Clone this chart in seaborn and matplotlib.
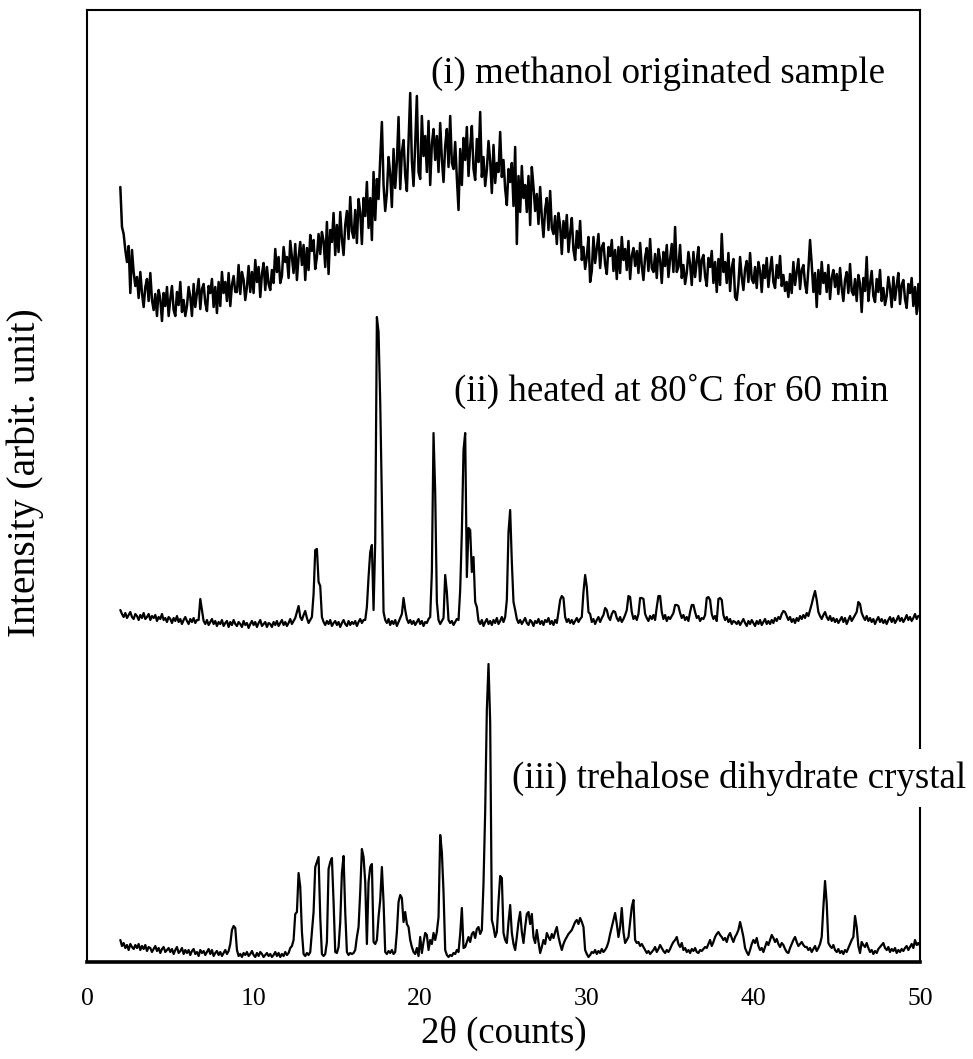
import matplotlib
matplotlib.use("Agg")
import matplotlib.pyplot as plt
import numpy as np
import pandas as pd
import seaborn as sns

# scan grid: 2.0 .. 50.0 deg, 0.1 step
two_theta = np.round(np.arange(2.0, 50.05, 0.1), 1)

# (i) methanol originated sample (arbitrary units, offset trace)
methanol = [
    775, 735, 728, 712, 700, 716, 669, 712, 690, 676,
    685, 664, 690, 669, 655, 675, 683, 661, 689, 662,
    652, 668, 646, 672, 663, 641, 669, 656, 675, 646,
    663, 676, 652, 646, 670, 657, 680, 650, 662, 646,
    656, 675, 665, 646, 678, 655, 669, 683, 653, 673,
    678, 659, 651, 676, 669, 683, 655, 675, 649, 680,
    656, 690, 669, 680, 661, 689, 656, 677, 686, 670,
    670, 697, 668, 690, 682, 662, 675, 696, 670, 690,
    669, 702, 680, 695, 665, 688, 699, 672, 695, 678,
    672, 692, 679, 713, 690, 705, 679, 686, 715, 700,
    705, 684, 721, 705, 689, 718, 682, 705, 720, 697,
    717, 682, 714, 692, 727, 711, 722, 693, 705, 728,
    708, 730, 721, 695, 740, 688, 732, 720, 749, 707,
    737, 710, 750, 723, 707, 737, 751, 723, 765, 731,
    724, 752, 719, 763, 750, 718, 764, 746, 780, 734,
    764, 722, 790, 742, 783, 763, 803, 840, 777, 751,
    769, 805, 788, 755, 813, 774, 800, 845, 773, 810,
    822, 787, 771, 819, 869, 801, 776, 818, 866, 790,
    783, 846, 806, 826, 790, 841, 777, 818, 833, 802,
    826, 790, 839, 803, 780, 816, 833, 795, 846, 799,
    793, 820, 784, 752, 813, 777, 824, 802, 835, 786,
    815, 836, 793, 782, 823, 800, 850, 785, 805, 776,
    792, 821, 801, 769, 817, 779, 799, 790, 830, 785,
    802, 773, 757, 793, 780, 799, 756, 815, 718, 786,
    750, 796, 764, 777, 750, 786, 737, 795, 775, 751,
    768, 738, 775, 745, 725, 753, 764, 732, 771, 734,
    728, 746, 718, 749, 736, 708, 741, 724, 747, 710,
    729, 744, 712, 702, 731, 714, 741, 702, 715, 693,
    705, 725, 680, 691, 725, 699, 714, 728, 694, 715,
    719, 698, 688, 715, 706, 722, 691, 712, 683, 715,
    689, 725, 702, 713, 692, 721, 683, 706, 714, 696,
    711, 689, 719, 696, 682, 705, 714, 691, 723, 694,
    690, 708, 684, 713, 702, 679, 710, 696, 717, 685,
    703, 718, 690, 735, 690, 695, 717, 684, 697, 678,
    689, 710, 698, 677, 710, 685, 701, 715, 681, 702,
    707, 686, 676, 704, 695, 711, 679, 700, 670, 703,
    677, 728, 690, 700, 679, 709, 671, 694, 703, 665,
    662, 678, 705, 685, 672, 693, 701, 680, 709, 683,
    679, 695, 674, 700, 691, 670, 697, 684, 704, 675,
    692, 705, 680, 674, 697, 684, 706, 676, 687, 671,
    680, 665, 688, 669, 700, 677, 690, 703, 673, 692,
    697, 678, 669, 693, 722, 698, 670, 689, 655, 692,
    668, 700, 679, 689, 670, 697, 663, 684, 692, 675,
    688, 668, 694, 674, 661, 682, 690, 669, 698, 671,
    667, 683, 661, 687, 678, 650, 684, 671, 705, 661,
    678, 691, 666, 660, 683, 670, 692, 661, 674, 657,
    666, 685, 674, 655, 685, 662, 676, 689, 658, 677,
    682, 663, 654, 678, 669, 684, 656, 675, 648, 678,
    650,
]

# (ii) heated at 80 C for 60 min
heated = [
    352, 348, 345, 349, 344, 347, 350, 345, 343, 348,
    346, 342, 347, 344, 349, 343, 345, 348, 342, 346,
    344, 347, 341, 345, 343, 348, 342, 344, 340, 345,
    343, 339, 344, 341, 346, 340, 343, 338, 342, 345,
    341, 338, 343, 340, 344, 339, 342, 342, 363, 352,
    341, 338, 342, 337, 340, 343, 338, 341, 336, 340,
    338, 342, 336, 339, 341, 335, 340, 337, 342, 338,
    336, 340, 338, 335, 341, 337, 339, 334, 338, 341,
    337, 340, 335, 339, 342, 336, 338, 340, 335, 339,
    338, 335, 340, 337, 341, 336, 339, 342, 337, 340,
    336, 339, 343, 338, 341, 344, 350, 356, 345, 342,
    347, 351, 344, 339, 342, 345, 368, 412, 413, 380,
    376, 345, 340, 337, 341, 338, 342, 336, 339, 341,
    337, 340, 335, 339, 342, 338, 336, 341, 337, 340,
    338, 341, 336, 340, 343, 339, 342, 342, 355, 385,
    410, 417, 352, 420, 645, 630, 560, 462, 350, 342,
    339, 343, 337, 341, 338, 342, 336, 340, 344, 348,
    364, 352, 343, 339, 342, 338, 341, 337, 340, 343,
    338, 341, 336, 340, 339, 343, 345, 390, 529, 470,
    360, 342, 338, 341, 344, 387, 370, 342, 339, 341,
    337, 340, 343, 342, 372, 430, 512, 529, 385, 434,
    432, 390, 405, 360, 355, 341, 338, 342, 336, 340,
    343, 338, 341, 337, 342, 339, 344, 338, 341, 345,
    340, 345, 362, 430, 452, 400, 360, 352, 343, 339,
    342, 338, 341, 344, 339, 337, 342, 340, 336, 341,
    339, 343, 338, 341, 337, 342, 340, 344, 338, 341,
    337, 342, 339, 350, 362, 366, 364, 345, 340, 343,
    339, 342, 338, 341, 344, 340, 343, 345, 370, 387,
    375, 350, 348, 340, 343, 338, 342, 345, 340, 344,
    347, 354, 352, 345, 342, 348, 351, 350, 344, 341,
    345, 340, 343, 347, 352, 366, 365, 350, 343, 346,
    342, 348, 364, 364, 363, 348, 344, 341, 346, 343,
    347, 342, 355, 366, 366, 350, 343, 347, 341, 345,
    343, 346, 349, 357, 357, 356, 349, 344, 347, 342,
    345, 341, 350, 357, 357, 350, 344, 346, 341, 344,
    343, 347, 364, 365, 362, 348, 343, 346, 341, 363,
    364, 362, 347, 342, 345, 340, 343, 338, 341, 340,
    338, 341, 337, 340, 343, 339, 336, 341, 338, 342,
    339, 336, 341, 338, 342, 337, 340, 343, 338, 341,
    338, 342, 339, 344, 341, 345, 343, 348, 351, 350,
    346, 342, 345, 340, 343, 339, 344, 341, 346, 343,
    347, 344, 349, 346, 352, 358, 365, 371, 362, 350,
    346, 343, 347, 350, 345, 342, 346, 341, 344, 340,
    343, 339, 342, 345, 340, 344, 338, 342, 346, 341,
    344, 347, 350, 360, 358, 349, 345, 342, 346, 341,
    344, 340, 343, 338, 342, 345, 340, 343, 339, 342,
    338, 342, 345, 340, 344, 339, 342, 346, 341, 344,
    340, 343, 347, 342, 345, 341, 344, 348, 343, 346,
    346,
]

# (iii) trehalose dihydrate crystal
dihydrate = [
    22, 16, 19, 14, 17, 12, 18, 15, 13, 17,
    14, 18, 12, 16, 13, 17, 11, 15, 14, 10,
    13, 16, 11, 14, 9, 13, 15, 10, 12, 14,
    10, 13, 8, 12, 15, 9, 11, 14, 8, 12,
    9, 12, 7, 11, 13, 8, 10, 6, 12, 9,
    11, 7, 10, 13, 8, 12, 6, 9, 11, 7,
    10, 6, 9, 12, 8, 11, 18, 32, 36, 34,
    12, 6, 8, 5, 9, 7, 10, 6, 8, 11,
    7, 5, 9, 6, 10, 8, 5, 7, 9, 6,
    8, 5, 7, 10, 6, 9, 5, 8, 6, 10,
    7, 9, 14, 16, 22, 48, 50, 89, 75, 30,
    8, 6, 9, 7, 10, 30, 50, 95, 100, 105,
    45, 8, 6, 8, 20, 93, 100, 104, 60, 10,
    9, 15, 40, 89, 106, 50, 10, 7, 9, 8,
    9, 12, 25, 35, 70, 113, 105, 80, 18, 80,
    95, 98, 20, 18, 22, 45, 62, 95, 60, 10,
    8, 11, 9, 12, 8, 10, 30, 60, 67, 64,
    40, 50, 38, 35, 22, 15, 10, 8, 14, 6,
    25, 9, 20, 29, 27, 12, 22, 18, 29, 22,
    30, 45, 127, 110, 70, 12, 7, 5, 7, 6,
    9, 8, 12, 10, 28, 54, 14, 15, 20, 25,
    20, 28, 30, 24, 33, 35, 28, 32, 79, 150,
    252, 298, 240, 42, 35, 25, 30, 60, 86, 84,
    29, 22, 19, 40, 57, 29, 18, 12, 25, 40,
    50, 30, 19, 35, 48, 50, 38, 48, 25, 19,
    32, 20, 9, 15, 22, 18, 29, 25, 22, 28,
    24, 30, 35, 25, 18, 12, 18, 22, 25, 28,
    30, 32, 36, 40, 42, 38, 44, 40, 35, 12,
    8, 5, 7, 10, 9, 12, 8, 11, 9, 13,
    10, 12, 15, 20, 28, 35, 42, 49, 38, 25,
    35, 54, 30, 19, 22, 25, 40, 55, 62, 22,
    19, 20, 16, 18, 15, 12, 9, 11, 8, 10,
    12, 15, 10, 13, 17, 14, 11, 9, 12, 10,
    13, 17, 20, 22, 25, 18, 15, 19, 12, 14,
    10, 12, 9, 13, 11, 14, 10, 9, 12, 11,
    13, 15, 14, 18, 22, 16, 20, 25, 28, 30,
    27, 25, 22, 24, 20, 26, 29, 24, 20, 25,
    28, 32, 40, 33, 25, 14, 10, 7, 12, 18,
    22, 19, 24, 16, 12, 14, 10, 15, 20, 17,
    22, 27, 24, 20, 23, 18, 15, 19, 17, 13,
    10, 9, 14, 18, 22, 25, 20, 16, 18, 20,
    17, 15, 15, 12, 14, 10, 13, 16, 11, 14,
    18, 25, 55, 81, 59, 19, 16, 14, 17, 12,
    10, 13, 9, 11, 8, 12, 10, 14, 18, 22,
    25, 46, 35, 16, 9, 20, 17, 15, 19, 14,
    10, 12, 8, 11, 9, 13, 15, 17, 19, 14,
    12, 15, 10, 13, 11, 14, 9, 12, 10, 13,
    11, 14, 16, 12, 15, 18, 14, 22, 17, 19,
    16,
]

sample_labels = [
    "(i) methanol originated sample",
    "(ii) heated at 80˚C for 60 min",
    "(iii) trehalose dihydrate crystal",
]
x_ticks = [0, 10, 20, 30, 40, 50]

sns.set_theme(style="white")
plt.rcParams["font.family"] = ["Liberation Serif", "DejaVu Serif"]
plt.rcParams["text.color"] = "black"
plt.rcParams["axes.labelcolor"] = "black"
plt.rcParams["xtick.color"] = "black"

W, H = 973, 1059
fig = plt.figure(figsize=(W / 100, H / 100), dpi=100)
ax = fig.add_axes([87 / W, 97 / H, 833 / W, 952 / H])

for trace, lw in ((methanol, 1.8), (heated, 1.6), (dihydrate, 1.6)):
    df = pd.DataFrame({"two_theta": two_theta, "intensity": trace})
    sns.lineplot(data=df, x="two_theta", y="intensity", color="black",
                 linewidth=lw, estimator=None, sort=False, ax=ax)

ax.set_xlim(0, 50)
ax.set_ylim(0, 952)
ax.set_xticks(x_ticks)
ax.set_xticklabels([str(t) for t in x_ticks])
ax.set_yticks([])
ax.tick_params(axis="x", length=0, pad=19, labelsize=18.5)
ax.set_xlabel("2θ (counts)", fontsize=26.5, labelpad=4)
ax.set_ylabel("Intensity (arbit. unit)", fontsize=28.5)
ax.yaxis.set_label_coords(-0.052, 0.514)

for side in ("left", "right", "top"):
    ax.spines[side].set_color("black")
    ax.spines[side].set_linewidth(1.5)
ax.spines["bottom"].set_color("black")
ax.spines["bottom"].set_linewidth(2.6)

ax.text(47.9, 889, sample_labels[0], ha="right", va="center", fontsize=26.6)
ax.text(48.1, 571, sample_labels[1], ha="right", va="center", fontsize=26.6)
ax.text(25.5, 184, sample_labels[2], ha="left", va="center", fontsize=26.6,
        clip_on=False, zorder=4,
        bbox=dict(boxstyle="square,pad=0.3", facecolor="white", edgecolor="none"))

fig.savefig("out.png", dpi=100)
